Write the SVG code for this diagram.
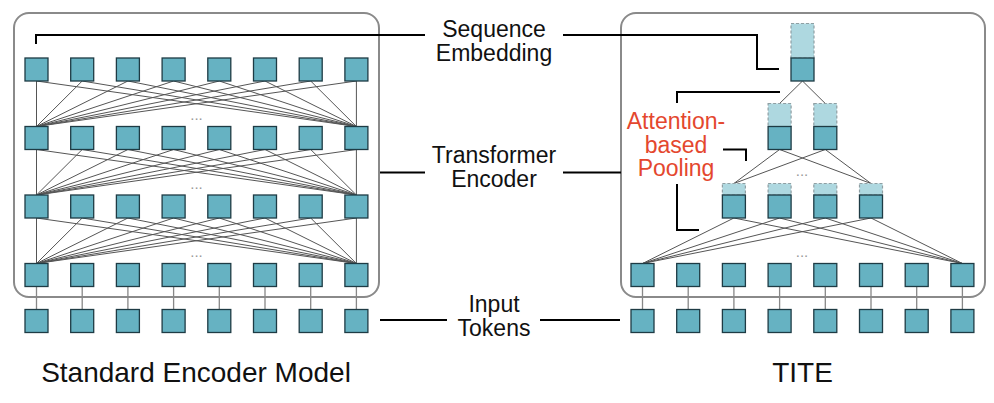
<svg xmlns="http://www.w3.org/2000/svg" width="994" height="403" viewBox="0 0 994 403">
<style>
.panel{fill:none;stroke:#8a8a8a;stroke-width:2}
.n{fill:#66b2c2;stroke:#1e3b44;stroke-width:1.3}
.ghost{fill:#aed8e0;stroke:#8f9fa3;stroke-width:1.2;stroke-dasharray:3 2}
.edge{fill:none;stroke:#555;stroke-width:1}
.tok{fill:none;stroke:#888;stroke-width:1.3}
.lead{fill:none;stroke:#000;stroke-width:2}
.lbl{font-family:"Liberation Sans",Arial,sans-serif;font-size:23px;fill:#111;text-anchor:middle}
.red{fill:#e4472e}
.cap{font-family:"Liberation Sans",Arial,sans-serif;font-size:28px;fill:#111;text-anchor:middle}
.dots{font-family:"Liberation Sans",Arial,sans-serif;font-size:15px;fill:#999;text-anchor:middle}
</style>
<rect width="994" height="403" fill="#fff"/>
<g id="panel-standard"><rect class="panel" x="14" y="13" width="365" height="284" rx="15"/></g>
<g id="panel-tite"><rect class="panel" x="621" y="13" width="364" height="284" rx="15"/></g>
<g id="connectors">
<path class="edge" d="M36.5 81L36.5 126.5M36.5 81L356.4 126.5M82.2 81L36.5 126.5M82.2 81L356.4 126.5M127.9 81L36.5 126.5M127.9 81L356.4 126.5M173.6 81L36.5 126.5M173.6 81L356.4 126.5M219.3 81L36.5 126.5M219.3 81L356.4 126.5M265 81L36.5 126.5M265 81L356.4 126.5M310.7 81L36.5 126.5M310.7 81L356.4 126.5M356.4 81L36.5 126.5M356.4 81L356.4 126.5"/>
<path class="edge" d="M36.5 149.5L36.5 195M36.5 149.5L356.4 195M82.2 149.5L36.5 195M82.2 149.5L356.4 195M127.9 149.5L36.5 195M127.9 149.5L356.4 195M173.6 149.5L36.5 195M173.6 149.5L356.4 195M219.3 149.5L36.5 195M219.3 149.5L356.4 195M265 149.5L36.5 195M265 149.5L356.4 195M310.7 149.5L36.5 195M310.7 149.5L356.4 195M356.4 149.5L36.5 195M356.4 149.5L356.4 195"/>
<path class="edge" d="M36.5 218L36.5 263.5M36.5 218L356.4 263.5M82.2 218L36.5 263.5M82.2 218L356.4 263.5M127.9 218L36.5 263.5M127.9 218L356.4 263.5M173.6 218L36.5 263.5M173.6 218L356.4 263.5M219.3 218L36.5 263.5M219.3 218L356.4 263.5M265 218L36.5 263.5M265 218L356.4 263.5M310.7 218L36.5 263.5M310.7 218L356.4 263.5M356.4 218L36.5 263.5M356.4 218L356.4 263.5"/>
<path class="tok" d="M36.5 286.5V309.5M82.2 286.5V309.5M127.9 286.5V309.5M173.6 286.5V309.5M219.3 286.5V309.5M265 286.5V309.5M310.7 286.5V309.5M356.4 286.5V309.5"/>
<path class="edge" d="M733.9 218L642.5 263.5M733.9 218L962.4 263.5M779.6 218L642.5 263.5M779.6 218L962.4 263.5M825.3 218L642.5 263.5M825.3 218L962.4 263.5M871 218L642.5 263.5M871 218L962.4 263.5"/>
<path class="edge" d="M779.6 149.5L733.9 183.5M779.6 149.5L871 183.5M825.3 149.5L733.9 183.5M825.3 149.5L871 183.5"/>
<path class="edge" d="M802.5 81L779.6 103.5M802.5 81L825.3 103.5"/>
<path class="tok" d="M642.5 286.5V309.5M688.2 286.5V309.5M733.9 286.5V309.5M779.6 286.5V309.5M825.3 286.5V309.5M871 286.5V309.5M916.7 286.5V309.5M962.4 286.5V309.5"/>
<path class="lead" d="M36 44V35H425M563 35H757V69H779"/>
<path class="lead" d="M380 172.5H425M563 172.5H621"/>
<path class="lead" d="M380 320H447M540 320H620"/>
<path class="lead" d="M677 103V92H780M723 149.5H746V161M677 184V230H699"/>
</g>
<g id="dots">
<text class="dots" x="196.5" y="120">...</text>
<text class="dots" x="196.5" y="188.5">...</text>
<text class="dots" x="196.5" y="257">...</text>
<text class="dots" x="802" y="176">...</text>
<text class="dots" x="802" y="257">...</text>
</g>
<g id="std-layer1">
<rect class="n" x="25" y="58" width="23" height="23"/><rect class="n" x="70.7" y="58" width="23" height="23"/><rect class="n" x="116.4" y="58" width="23" height="23"/><rect class="n" x="162.1" y="58" width="23" height="23"/><rect class="n" x="207.8" y="58" width="23" height="23"/><rect class="n" x="253.5" y="58" width="23" height="23"/><rect class="n" x="299.2" y="58" width="23" height="23"/><rect class="n" x="344.9" y="58" width="23" height="23"/>
</g>
<g id="std-layer2">
<rect class="n" x="25" y="126.5" width="23" height="23"/><rect class="n" x="70.7" y="126.5" width="23" height="23"/><rect class="n" x="116.4" y="126.5" width="23" height="23"/><rect class="n" x="162.1" y="126.5" width="23" height="23"/><rect class="n" x="207.8" y="126.5" width="23" height="23"/><rect class="n" x="253.5" y="126.5" width="23" height="23"/><rect class="n" x="299.2" y="126.5" width="23" height="23"/><rect class="n" x="344.9" y="126.5" width="23" height="23"/>
</g>
<g id="std-layer3">
<rect class="n" x="25" y="195" width="23" height="23"/><rect class="n" x="70.7" y="195" width="23" height="23"/><rect class="n" x="116.4" y="195" width="23" height="23"/><rect class="n" x="162.1" y="195" width="23" height="23"/><rect class="n" x="207.8" y="195" width="23" height="23"/><rect class="n" x="253.5" y="195" width="23" height="23"/><rect class="n" x="299.2" y="195" width="23" height="23"/><rect class="n" x="344.9" y="195" width="23" height="23"/>
</g>
<g id="std-layer4">
<rect class="n" x="25" y="263.5" width="23" height="23"/><rect class="n" x="70.7" y="263.5" width="23" height="23"/><rect class="n" x="116.4" y="263.5" width="23" height="23"/><rect class="n" x="162.1" y="263.5" width="23" height="23"/><rect class="n" x="207.8" y="263.5" width="23" height="23"/><rect class="n" x="253.5" y="263.5" width="23" height="23"/><rect class="n" x="299.2" y="263.5" width="23" height="23"/><rect class="n" x="344.9" y="263.5" width="23" height="23"/>
</g>
<g id="std-input">
<rect class="n" x="25" y="309.5" width="23" height="23"/><rect class="n" x="70.7" y="309.5" width="23" height="23"/><rect class="n" x="116.4" y="309.5" width="23" height="23"/><rect class="n" x="162.1" y="309.5" width="23" height="23"/><rect class="n" x="207.8" y="309.5" width="23" height="23"/><rect class="n" x="253.5" y="309.5" width="23" height="23"/><rect class="n" x="299.2" y="309.5" width="23" height="23"/><rect class="n" x="344.9" y="309.5" width="23" height="23"/>
</g>
<g id="tite-layer1">
<rect class="n" x="631" y="263.5" width="23" height="23"/><rect class="n" x="676.7" y="263.5" width="23" height="23"/><rect class="n" x="722.4" y="263.5" width="23" height="23"/><rect class="n" x="768.1" y="263.5" width="23" height="23"/><rect class="n" x="813.8" y="263.5" width="23" height="23"/><rect class="n" x="859.5" y="263.5" width="23" height="23"/><rect class="n" x="905.2" y="263.5" width="23" height="23"/><rect class="n" x="950.9" y="263.5" width="23" height="23"/>
</g>
<g id="tite-input">
<rect class="n" x="631" y="309.5" width="23" height="23"/><rect class="n" x="676.7" y="309.5" width="23" height="23"/><rect class="n" x="722.4" y="309.5" width="23" height="23"/><rect class="n" x="768.1" y="309.5" width="23" height="23"/><rect class="n" x="813.8" y="309.5" width="23" height="23"/><rect class="n" x="859.5" y="309.5" width="23" height="23"/><rect class="n" x="905.2" y="309.5" width="23" height="23"/><rect class="n" x="950.9" y="309.5" width="23" height="23"/>
</g>
<g id="tite-pool1">
<rect class="ghost" x="722.4" y="183.5" width="23" height="11.5"/><rect class="n" x="722.4" y="195" width="23" height="23"/>
<rect class="ghost" x="768.1" y="183.5" width="23" height="11.5"/><rect class="n" x="768.1" y="195" width="23" height="23"/>
<rect class="ghost" x="813.8" y="183.5" width="23" height="11.5"/><rect class="n" x="813.8" y="195" width="23" height="23"/>
<rect class="ghost" x="859.5" y="183.5" width="23" height="11.5"/><rect class="n" x="859.5" y="195" width="23" height="23"/>
</g>
<g id="tite-pool2">
<rect class="ghost" x="768.1" y="103.5" width="23" height="23"/><rect class="n" x="768.1" y="126.5" width="23" height="23"/>
<rect class="ghost" x="813.8" y="103.5" width="23" height="23"/><rect class="n" x="813.8" y="126.5" width="23" height="23"/>
</g>
<g id="tite-sequence-embedding">
<rect class="ghost" x="791" y="23.5" width="23" height="34.5"/><rect class="n" x="791" y="58" width="23" height="23"/>
</g>
<g id="label-sequence-embedding"><text class="lbl" x="494" y="37">Sequence</text><text class="lbl" x="494" y="61">Embedding</text></g>
<g id="label-transformer-encoder"><text class="lbl" x="494" y="163">Transformer</text><text class="lbl" x="494" y="187">Encoder</text></g>
<g id="label-input-tokens"><text class="lbl" x="494" y="312">Input</text><text class="lbl" x="494" y="336">Tokens</text></g>
<g id="label-attention-pooling"><text class="lbl red" x="676" y="129">Attention-</text><text class="lbl red" x="676" y="152.5">based</text><text class="lbl red" x="676" y="176">Pooling</text></g>
<g id="caption-standard"><text class="cap" x="196" y="382">Standard Encoder Model</text></g>
<g id="caption-tite"><text class="cap" x="802.5" y="382">TITE</text></g>
</svg>
